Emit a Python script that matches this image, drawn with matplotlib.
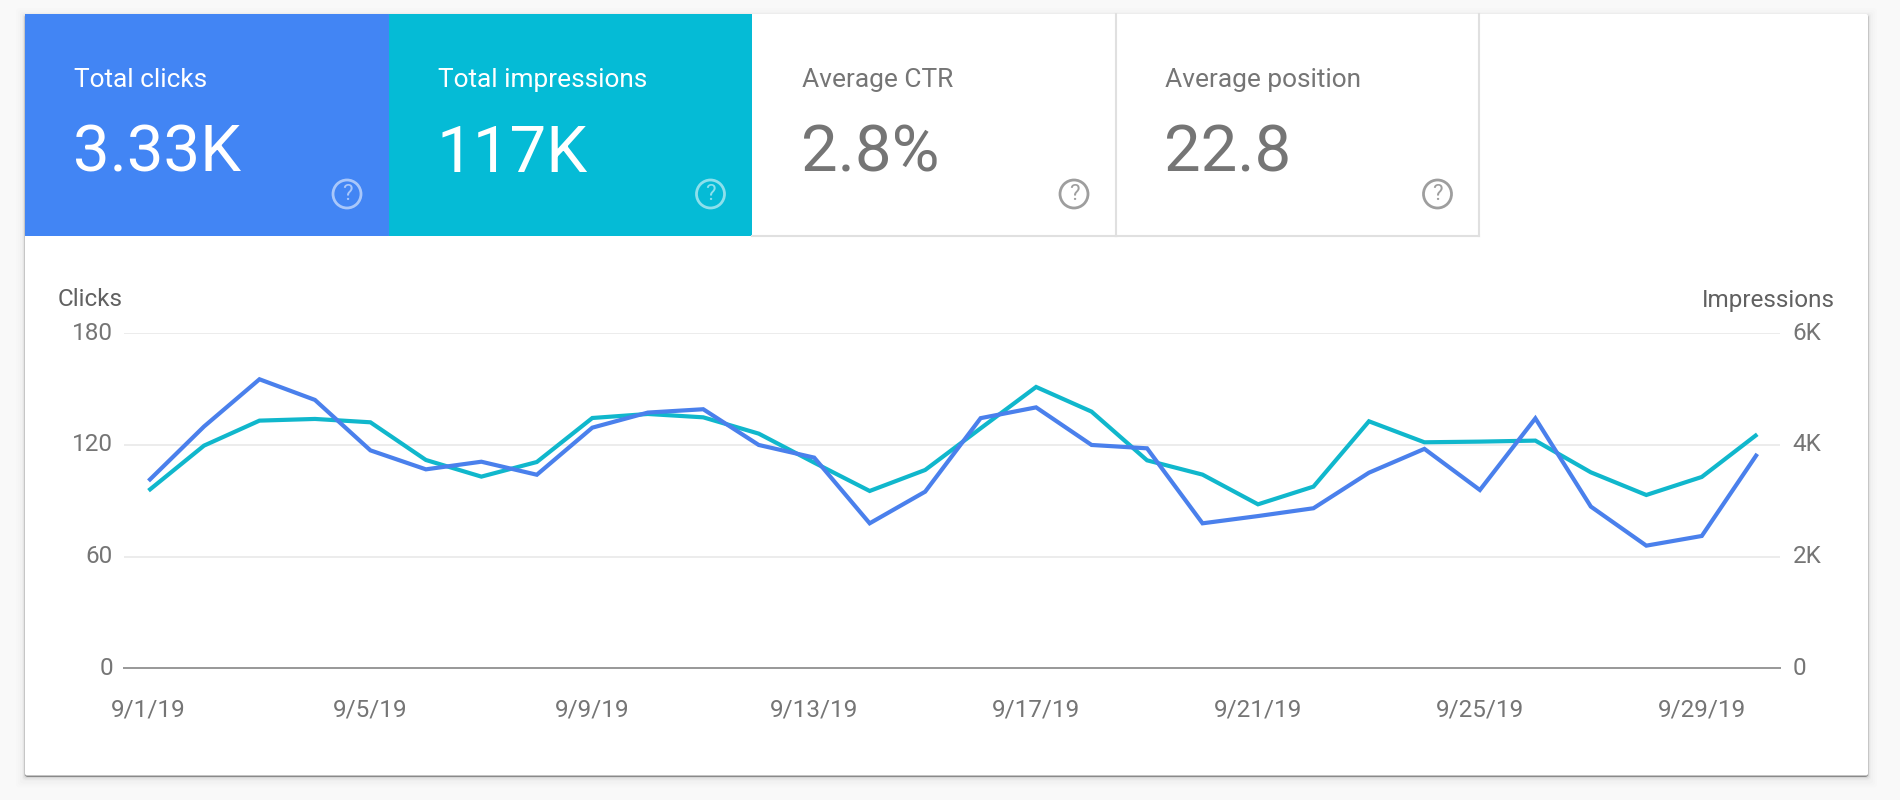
import matplotlib
matplotlib.use("Agg")
import matplotlib.pyplot as plt
from matplotlib.patches import Rectangle, Circle, FancyBboxPatch

days = list(range(1, 31))
clicks = [100.7, 129.9, 155.3, 144.2, 117.1, 106.9, 111.0, 104.0, 129.3, 137.4,
          139.2, 120.0, 113.2, 77.9, 94.9, 134.4, 140.2, 120.0, 118.2, 77.9,
          81.8, 86.0, 105.1, 117.9, 95.8, 134.3, 86.9, 65.9, 71.1, 115.2]
impressions = [3182, 3988, 4436, 4466, 4406, 3731, 3433, 3695, 4483, 4555,
               4495, 4203, 3683, 3176, 3552, 4298, 5039, 4597, 3725, 3469,
               2937, 3254, 4424, 4048, 4060, 4078, 3510, 3104, 3427, 4191]
xtick_days = [1, 5, 9, 13, 17, 21, 25, 29]
xtick_labels = ["9/1/19", "9/5/19", "9/9/19", "9/13/19", "9/17/19", "9/21/19", "9/25/19", "9/29/19"]
clicks_ticks = [0, 60, 120, 180]
impr_ticks = [0, 2000, 4000, 6000]
impr_tick_labels = ["0", "2K", "4K", "6K"]
tile_titles = ["Total clicks", "Total impressions", "Average CTR", "Average position"]
tile_values = ["3.33K", "117K", "2.8%", "22.8"]

BLUE = "#4285F4"
TEAL = "#05BBD6"
LINE_BLUE = "#4A80EC"
LINE_TEAL = "#10B7CC"
GREY = "#757575"
W, H = 1900, 800

plt.rcParams["font.family"] = ["Roboto", "DejaVu Sans"]
fig = plt.figure(figsize=(W / 100, H / 100), dpi=100, facecolor="#F9F9F9")

# pixel-space layer for the card and tiles
bg = fig.add_axes([0, 0, 1, 1], zorder=0)
bg.set_xlim(0, W)
bg.set_ylim(H, 0)
bg.axis("off")

L, T, R, B = 25, 14, 1868, 775.5
for grow, dy, alpha in [(9, 3, 0.006), (7, 3, 0.008), (5, 3, 0.012), (3, 2, 0.02), (2, 2, 0.035), (1, 1.5, 0.06), (0.5, 1, 0.14), (0, 1.5, 0.25)]:
    bg.add_patch(FancyBboxPatch((L - grow, T - grow + dy), R - L + 2 * grow, B - T + 2 * grow,
                                boxstyle="round,pad=0,rounding_size=3", fc="black", ec="none", alpha=alpha))
bg.add_patch(FancyBboxPatch((L, T), R - L, B - T, boxstyle="round,pad=0,rounding_size=2", fc="white", ec="none"))

tile_left = [25, 388.5, 752, 1115.5]
tile_w = 363.6
tile_top, tile_bottom = 14, 236
tile_bg = [BLUE, TEAL, "white", "white"]
for i, title in enumerate(tile_titles):
    x0 = tile_left[i]
    if i < 2:
        bg.add_patch(Rectangle((x0, tile_top), tile_w, tile_bottom - tile_top, fc=tile_bg[i], ec="none"))
        fg, icon, a = "white", "white", 0.55
    else:
        bg.plot([x0 + tile_w, x0 + tile_w], [tile_top, tile_bottom], color="#E0E0E0", lw=1.5)
        bg.plot([x0, x0 + tile_w], [tile_bottom, tile_bottom], color="#E0E0E0", lw=1.5)
        fg, icon, a = GREY, "#9E9E9E", 1
    bg.text(x0 + 49.5, 87.3, title, color=fg, fontsize=18.9, va="baseline", ha="left")
    bg.text(x0 + 48.5, 171.7, tile_values[i], color=fg, fontsize=47, va="baseline", ha="left")
    cx, cy = x0 + 322, 194
    bg.add_patch(Circle((cx, cy), 14, fc="none", ec=icon, lw=2, alpha=a))
    bg.text(cx, cy + 0.5, "?", color=icon, alpha=a, fontsize=16, ha="center", va="center")

# chart axes, placed to the plot rectangle of the reference
px_left, px_right, px_top, px_bottom = 124, 1780, 333.3, 668.3
ax = fig.add_axes([px_left / W, 1 - px_bottom / H, (px_right - px_left) / W, (px_bottom - px_top) / H], zorder=2)
ax.patch.set_alpha(0)
ax2 = ax.twinx()
ax2.patch.set_alpha(0)
ax.set_xlim(0.558, 30.41)
ax.set_ylim(0, 180)
ax2.set_ylim(0, 6000)

ax.set_yticks(clicks_ticks)
ax.set_xticks(xtick_days)
ax.set_xticklabels(xtick_labels)
ax2.set_yticks(impr_ticks)
ax2.set_yticklabels(impr_tick_labels)
ax.tick_params(axis="y", length=0, pad=8, labelsize=17.5, labelcolor=GREY)
ax.tick_params(axis="x", length=0, pad=21.5, labelsize=17.5, labelcolor=GREY)
ax2.tick_params(axis="y", length=0, pad=9, labelsize=17.5, labelcolor=GREY)
for lab in ax.get_yticklabels() + ax2.get_yticklabels():
    lab.set_verticalalignment("center")
ax.grid(axis="y", color="#ECECEC", lw=1.4)
ax.set_axisbelow(True)
for a_ in (ax, ax2):
    for side in ("top", "left", "right"):
        a_.spines[side].set_visible(False)
    a_.spines["bottom"].set_color("#9A9A9A")
    a_.spines["bottom"].set_linewidth(1.4)

ax2.plot(days, impressions, color=LINE_TEAL, lw=3, solid_joinstyle="miter", solid_capstyle="butt", zorder=3)
ax3 = ax.twinx()
ax3.patch.set_alpha(0)
ax3.axis("off")
ax3.set_ylim(0, 180)
ax3.plot(days, clicks, color=LINE_BLUE, lw=3, solid_joinstyle="miter", solid_capstyle="butt", zorder=4)

bg.text(58, 300, "Clicks", color="#616161", fontsize=17.5, ha="left", va="center")
bg.text(1835, 300, "Impressions", color="#616161", fontsize=17.5, ha="right", va="center")

fig.savefig("out.png", dpi=100, facecolor=fig.get_facecolor())
